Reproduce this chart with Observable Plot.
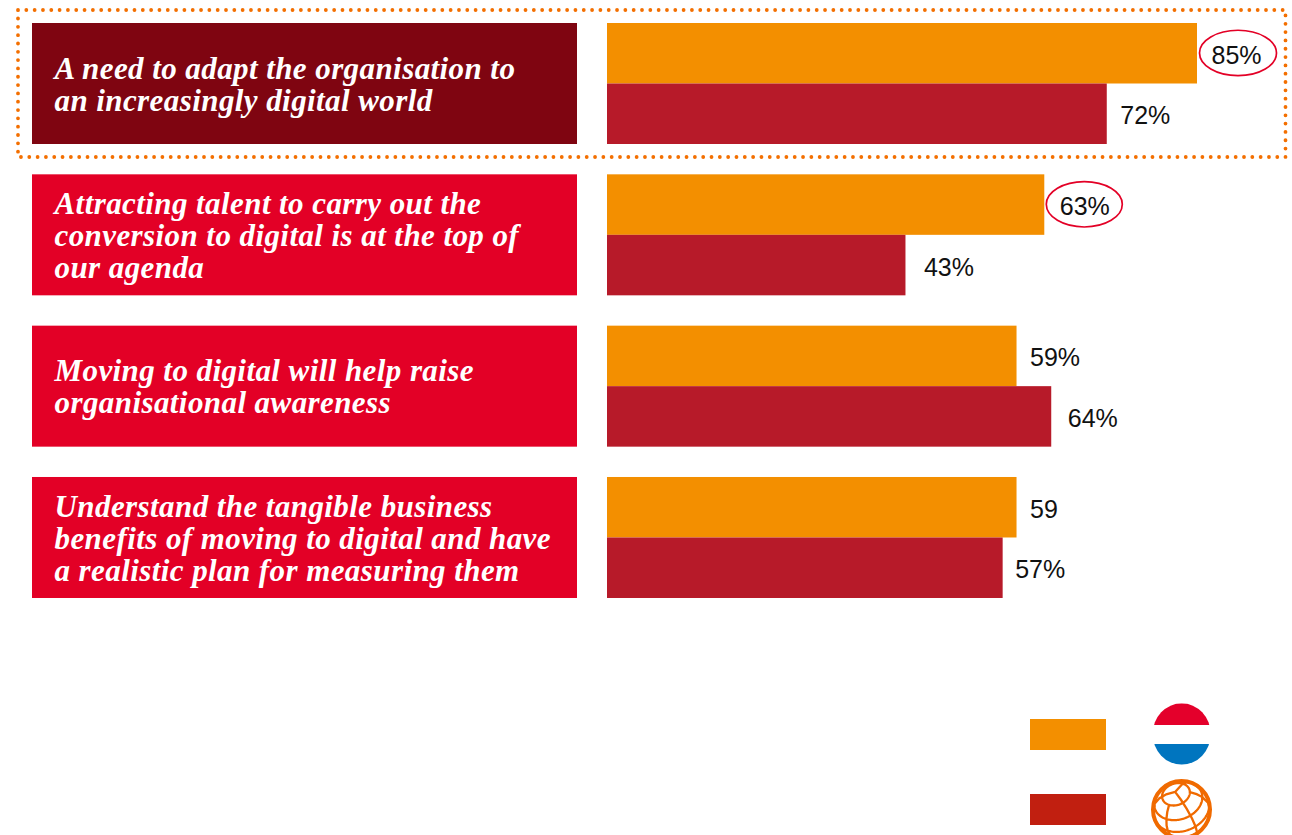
<!DOCTYPE html>
<html>
<head>
<meta charset="utf-8">
<script src="https://cdn.jsdelivr.net/npm/d3@7"></script>
<script src="https://cdn.jsdelivr.net/npm/@observablehq/plot@0.6"></script>
<style>
  html, body { margin: 0; padding: 0; background: #fff; }
  svg { display: block; }
  .statement { letter-spacing: 0.42px; }
</style>
</head>
<body>
<div id="chart"></div>
<script>
// Survey statements and the share of respondents agreeing, Netherlands vs. global
const statements = [
  "A need to adapt the organisation to\nan increasingly digital world",
  "Attracting talent to carry out the\nconversion to digital is at the top of\nour agenda",
  "Moving to digital will help raise\norganisational awareness",
  "Understand the tangible business\nbenefits of moving to digital and have\na realistic plan for measuring them"
];
const netherlands = [85, 63, 59, 59];
const globalShare = [72, 43, 64, 57];
const netherlandsLabels = ["85%", "63%", "59%", "59"];
const globalLabels = ["72%", "43%", "64%", "57%"];

// Layout (pixels)
const W = 1292, H = 835;
const x0 = 607, pxPerPoint = 590 / 85;
const rowTop = 23, rowPitch = 151.33, rowHeight = 121;
const X = p => (p - x0) / pxPerPoint;
const Y = p => (p - rowTop) / rowPitch;
const barShare = (rowHeight / rowPitch) / 2;
const nlGaps = [15, 16, 14, 14];
const glGaps = [14, 19, 17, 13];

const colors = {
  nl: "#f38f00", gl: "#b71a29", box: "#e30026", boxHi: "#7f0511",
  legendGl: "#c11f10", dotted: "#f36f00", ring: "#e30026",
  flagRed: "#e4002b", flagBlue: "#0075bf", globe: "#f06a00"
};

const boxes = statements.map((text, i) => ({text, i}));
const bars = [
  ...netherlands.map((v, i) => ({v, y1: i, y2: i + barShare, fill: colors.nl})),
  ...globalShare.map((v, i) => ({v, y1: i + barShare, y2: i + 2 * barShare, fill: colors.gl}))
];
const labels = [
  ...netherlands.map((v, i) => ({x: v + nlGaps[i] / pxPerPoint, y: i + barShare / 2, t: netherlandsLabels[i]})),
  ...globalShare.map((v, i) => ({x: v + glGaps[i] / pxPerPoint, y: i + 1.5 * barShare, t: globalLabels[i]}))
];

// Red rings around the two highest Netherlands values
const rings = [
  {value: 85, row: 0, dx: 41, rx: 38.5},
  {value: 63, row: 1, dx: 40, rx: 38}
];
const ringMark = (index, {x, y}) => {
  const g = d3.create("svg:g");
  for (const r of rings) {
    g.append("ellipse")
      .attr("cx", x(r.value) + r.dx)
      .attr("cy", y(r.row + barShare / 2) - 0.3)
      .attr("rx", r.rx).attr("ry", 22.7)
      .attr("fill", "none").attr("stroke", colors.ring).attr("stroke-width", 1.7);
  }
  return g.node();
};

// Round flag: three horizontal stripes inside a disc
const flagMark = () => {
  const cx = 1181.7, cy = 734, rx = 29, ry = 30.7;
  const g = d3.create("svg:g");
  const clip = g.append("clipPath").attr("id", "flag-disc");
  clip.append("ellipse").attr("cx", cx).attr("cy", cy).attr("rx", rx).attr("ry", ry);
  const s = g.append("g").attr("clip-path", "url(#flag-disc)");
  s.append("rect").attr("x", cx - rx).attr("y", cy - ry).attr("width", 2 * rx).attr("height", 725 - (cy - ry)).attr("fill", colors.flagRed);
  s.append("rect").attr("x", cx - rx).attr("y", 744).attr("width", 2 * rx).attr("height", cy + ry - 744).attr("fill", colors.flagBlue);
  return g.node();
};

// Globe icon: orthographic graticule with a heavy outline
const globeMark = () => {
  const cx = 1181.5, cy = 809.5, r = 28.5;
  const projection = d3.geoOrthographic().scale(r).translate([cx, cy]).rotate([15, -49, 20]).clipAngle(90);
  const path = d3.geoPath(projection);
  const graticule = d3.geoGraticule()
    .stepMinor([60, 30]).stepMajor([120, 360])
    .extentMinor([[-180, -60.01], [180, 60.01]])
    .extentMajor([[-180, -90], [180, 90]]);
  const g = d3.create("svg:g").attr("fill", "none").attr("stroke", colors.globe);
  g.append("path").attr("d", path(graticule())).attr("stroke-width", 2.3);
  g.append("circle").attr("cx", cx).attr("cy", cy).attr("r", r).attr("stroke-width", 4);
  return g.node();
};

const legend = [
  {y1: Y(719), y2: Y(750), fill: colors.nl},
  {y1: Y(794), y2: Y(825), fill: colors.legendGl}
];

const chart = Plot.plot({
  width: W, height: H,
  margin: 0,
  style: {background: "#fff", overflow: "hidden"},
  x: {type: "linear", domain: [0, 85], range: [x0, x0 + 590], axis: null},
  y: {type: "linear", domain: [0, 3.8], range: [rowTop, rowTop + 3.8 * rowPitch], axis: null},
  marks: [
    // Dotted frame around the first row
    Plot.rect([0], {
      x1: X(18), x2: X(1285.5), y1: Y(10), y2: Y(157),
      fill: "none", stroke: colors.dotted, strokeWidth: 3.8,
      strokeDasharray: "0 8.32", strokeLinecap: "round"
    }),
    // Statement panels
    Plot.rect(boxes, {
      x1: X(32), x2: X(577),
      y1: d => d.i, y2: d => d.i + 2 * barShare,
      fill: d => d.i === 0 ? colors.boxHi : colors.box
    }),
    Plot.text(boxes, {
      x: X(54), y: d => d.i + barShare, dy: 0.5,
      text: "text", textAnchor: "start", fill: "#fff",
      fontFamily: "Liberation Serif", fontStyle: "italic", fontWeight: 700,
      fontSize: 31, lineHeight: 32 / 31, className: "statement"
    }),
    // Bars
    Plot.rectX(bars, {x1: 0, x2: "v", y1: "y1", y2: "y2", fill: d => d.fill}),
    // Value labels
    Plot.text(labels, {
      x: "x", y: "y", text: "t", textAnchor: "start", fill: "#111", dx: -1, dy: 2,
      fontFamily: "Liberation Sans", fontSize: 25
    }),
    ringMark,
    // Legend
    Plot.rect(legend, {x1: X(1030), x2: X(1106), y1: "y1", y2: "y2", fill: d => d.fill}),
    flagMark,
    globeMark
  ]
});
document.getElementById("chart").append(chart);
</script>
</body>
</html>
